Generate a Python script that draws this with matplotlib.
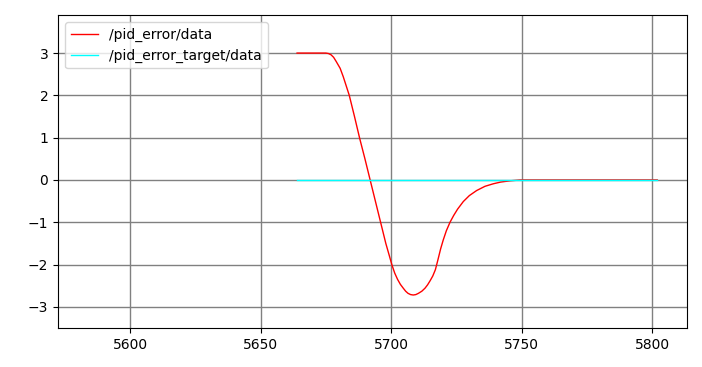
import matplotlib
matplotlib.use("Agg")
import matplotlib.pyplot as plt

err_x = [5664, 5670, 5675, 5676, 5677, 5678, 5679, 5680.5, 5681.7, 5682.8, 5684,
         5686, 5688, 5690, 5692, 5694, 5696, 5698, 5699.3, 5700.3, 5701.4, 5702.5,
         5703.6, 5704.7, 5705.6, 5706.5, 5707.5, 5708.5, 5709.5, 5710.5, 5711.8,
         5713, 5714, 5715, 5716, 5717, 5718, 5719, 5720, 5721.2, 5722.6, 5724,
         5725.5, 5727.7, 5730, 5732.8, 5736, 5739.2, 5742, 5745.6, 5749.5, 5760,
         5780, 5802]
err_y = [3.0, 3.0, 3.0, 2.99, 2.96, 2.9, 2.8, 2.64, 2.44, 2.23, 2.0,
         1.5, 0.98, 0.5, 0.0, -0.5, -1.0, -1.5, -1.78, -2.0, -2.2, -2.35,
         -2.47, -2.56, -2.63, -2.68, -2.71, -2.72, -2.71, -2.68, -2.63,
         -2.56, -2.48, -2.38, -2.27, -2.12, -1.88, -1.63, -1.42, -1.2, -1.0, -0.84,
         -0.69, -0.51, -0.37, -0.25, -0.15, -0.09, -0.05, -0.02, 0.0, 0.0,
         0.0, 0.0]
tgt_x = [5664, 5802]
tgt_y = [0.0, 0.0]

fig = plt.figure(figsize=(7.02, 3.67), dpi=100)
ax = fig.add_axes([58/702, 1-328/367, (687-58)/702, (328-15)/367])
ax.plot(err_x, err_y, color="red", lw=1, label="/pid_error/data")
ax.plot(tgt_x, tgt_y, color="cyan", lw=1, label="/pid_error_target/data")
ax.set_xlim(5572.4, 5813.4)
ax.set_ylim(-3.5, 3.9)
ax.set_xticks([5600, 5650, 5700, 5750, 5800])
ax.set_yticks([-3, -2, -1, 0, 1, 2, 3])
ax.grid(True, color="gray", lw=1)
ax.set_axisbelow(True)
ax.legend(loc="upper left")
fig.savefig("out.png", dpi=100)
